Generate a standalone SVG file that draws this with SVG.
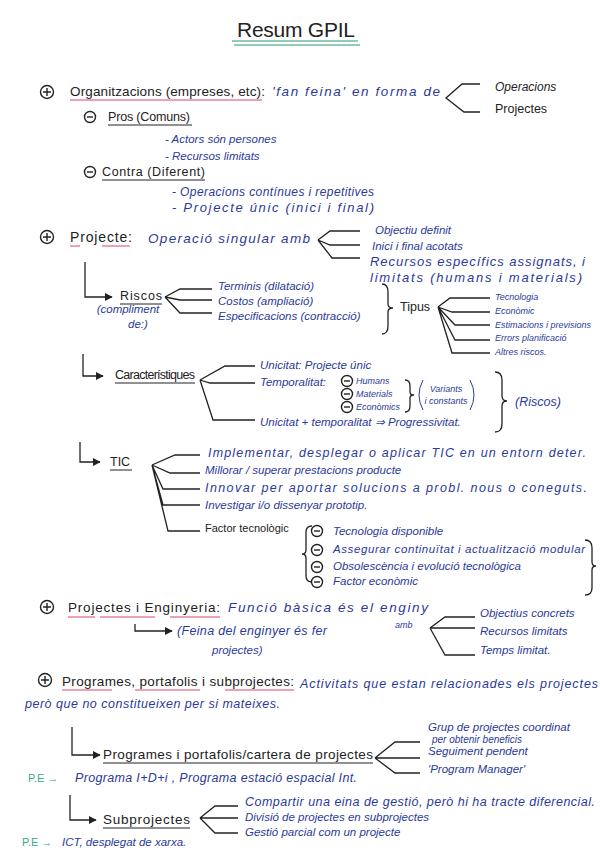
<svg xmlns="http://www.w3.org/2000/svg" width="600" height="848" viewBox="0 0 600 848">
<style>
.k{font-family:"Liberation Sans",Arial,sans-serif;font-size:12.5px;fill:#222}
.b{font-family:"Liberation Sans",Arial,sans-serif;font-size:11.5px;fill:#2b3a9a;font-style:italic}
.bs{font-family:"Liberation Sans",Arial,sans-serif;font-size:9px;fill:#2b3a9a;font-style:italic}
.g{font-family:"Liberation Sans",Arial,sans-serif;font-size:11px;fill:#3aa88a}
.ln{stroke:#222;stroke-width:1.3;fill:none}
.ul{stroke:#222;stroke-width:1;fill:none}
.ru{stroke:#d6476a;stroke-width:1;fill:none}
.cb{stroke:#222;stroke-width:1.4;fill:none}
</style>
<defs>
<marker id="ah" viewBox="0 0 10 10" refX="9" refY="5" markerWidth="6" markerHeight="6" orient="auto"><path d="M0,0L10,5L0,10z" fill="#222"/></marker>
<g id="cp"><circle r="6.5" class="cb"/><path d="M-4,0H4M0,-4V4" class="cb"/></g>
<g id="cm"><circle r="5.5" class="cb"/><path d="M-3,0H3" class="cb"/></g>
</defs>
<rect width="600" height="848" fill="#fff"/>

<g id="title">
<text x="296" y="37" class="k" style="font-size:21px" text-anchor="middle" textLength="118" lengthAdjust="spacing">Resum GPIL</text>
<path d="M232,41H358M234,45H360" stroke="#2a9a7a" stroke-width="1.2" fill="none"/>
</g>

<g id="connectors">
<path d="M480,84H462L446,98L464,112H480" class="ln"/>
<path d="M318,240L330,231H360M318,240L330,245H360M318,240L332,258H360" class="ln"/>
<path d="M85,262V297H112" class="ln" marker-end="url(#ah)"/>
<path d="M165,297L180,289H212M165,297L180,300H212M165,297L180,313H212" class="ln"/>
<path d="M438,307L450,298H490M438,307L452,312H490M438,307L455,325H490M438,307L455,340H490M438,307L452,353H490" class="ln"/>
<path d="M83,354V376H103" class="ln" marker-end="url(#ah)"/>
<path d="M200,380L225,366H255M200,380L210,383H255M200,380L213,420H255" class="ln"/>
<path d="M80,442V462H100" class="ln" marker-end="url(#ah)"/>
<path d="M152,465L175,455H200M152,465L170,473H200M152,465L163,489H200M152,465L163,505H200M152,465L168,531H200" class="ln"/>
<path d="M135,624V631H172" class="ln" marker-end="url(#ah)"/>
<path d="M430,628L445,617H475M430,628L445,628H475M430,628L445,655H475" class="ln"/>
<path d="M72,727V755H100" class="ln" marker-end="url(#ah)"/>
<path d="M375,758L395,742H420M375,758H420M375,758L395,773H420" class="ln"/>
<path d="M70,795V820H96" class="ln" marker-end="url(#ah)"/>
<path d="M200,818L215,806H238M200,818H238M200,818L215,833H238" class="ln"/>
</g>

<g id="organitzacions">
<use href="#cp" x="47" y="92"/>
<text x="70" y="96" class="k" style="font-size:13.5px" textLength="195" lengthAdjust="spacing">Organitzacions (empreses, etc):</text>
<path d="M70,100H262" class="ru"/>
<text x="272" y="96" class="b" style="font-size:13.5px" textLength="168" lengthAdjust="spacing">'fan feina' en forma de</text>
<text x="495" y="91" class="k" style="font-size:12px;font-style:italic">Operacions</text>
<text x="495" y="113" class="k">Projectes</text>
</g>

<g id="pros">
<use href="#cm" x="90" y="117"/>
<text x="108" y="121" class="k" textLength="82" lengthAdjust="spacing">Pros (Comuns)</text>
<path d="M108,125H192" class="ul"/>
<text x="165" y="143" class="b">- Actors són persones</text>
<text x="165" y="160" class="b">- Recursos limitats</text>
</g>

<g id="contra">
<use href="#cm" x="90" y="172"/>
<text x="102" y="176" class="k" textLength="103" lengthAdjust="spacing">Contra (Diferent)</text>
<path d="M102,180H205" class="ul"/>
<text x="172" y="196" class="b" style="font-size:12px" textLength="202" lengthAdjust="spacing">- Operacions contínues i repetitives</text>
<text x="172" y="212" class="b" style="font-size:13px" textLength="202" lengthAdjust="spacing">- Projecte únic (inici i final)</text>
</g>

<g id="projecte">
<use href="#cp" x="47" y="237"/>
<text x="70" y="242" class="k" style="font-size:14px" textLength="62" lengthAdjust="spacing">Projecte:</text>
<path d="M70,246H80M102,246H130" class="ru"/>
<text x="148" y="243" class="b" style="font-size:13.5px" textLength="162" lengthAdjust="spacing">Operació singular amb</text>
<text x="375" y="234" class="b">Objectiu definit</text>
<text x="372" y="250" class="b">Inici i final acotats</text>
<text x="370" y="266" class="b" style="font-size:13px" textLength="215" lengthAdjust="spacing">Recursos específics assignats, i</text>
<text x="370" y="282" class="b" style="font-size:13px" textLength="212" lengthAdjust="spacing">limitats (humans i materials)</text>
</g>

<g id="riscos">
<text x="120" y="300" class="k" textLength="42" lengthAdjust="spacing">Riscos</text>
<path d="M120,304H162" class="ul"/>
<text x="128" y="313" class="b" text-anchor="middle">(compliment</text>
<text x="138" y="328" class="b" text-anchor="middle">de:)</text>
<text x="218" y="290" class="b">Terminis (dilatació)</text>
<text x="218" y="305" class="b">Costos (ampliació)</text>
<text x="218" y="320" class="b">Especificacions (contracció)</text>
<path d="M382,284Q388,284 388,292V304Q388,308 393,308Q388,308 388,312V326Q388,334 382,334" class="ln"/>
<text x="400" y="311" class="k">Tipus</text>
<text x="495" y="300" class="bs">Tecnologia</text>
<text x="495" y="314" class="bs">Econòmic</text>
<text x="495" y="328" class="bs">Estimacions i previsions</text>
<text x="495" y="341" class="bs">Errors planificació</text>
<text x="495" y="355" class="bs">Altres riscos.</text>
</g>

<g id="caracteristiques">
<text x="115" y="379" class="k" textLength="80" lengthAdjust="spacing">Característiques</text>
<path d="M115,383H195" class="ul"/>
<text x="260" y="369" class="b">Unicitat: Projecte únic</text>
<text x="260" y="386" class="b">Temporalitat:</text>
<use href="#cm" x="347" y="381"/>
<use href="#cm" x="347" y="394"/>
<use href="#cm" x="347" y="407"/>
<text x="356" y="384" class="bs">Humans</text>
<text x="356" y="397" class="bs">Materials</text>
<text x="356" y="410" class="bs">Econòmics</text>
<path d="M405,380Q410,380 410,386V392Q410,395 414,395Q410,395 410,398V406Q410,412 405,412" class="ln"/>
<path d="M423,380Q415,395 423,410M470,380Q478,395 470,410" stroke="#2b3a9a" stroke-width="1" fill="none"/>
<text x="446" y="392" class="bs" text-anchor="middle">Variants</text>
<text x="446" y="404" class="bs" text-anchor="middle">i constants</text>
<text x="260" y="426" class="b">Unicitat + temporalitat ⇒ Progressivitat.</text>
<path d="M495,372Q502,372 502,380V396Q502,401 507,401Q502,401 502,406V424Q502,432 495,432" class="ln"/>
<text x="515" y="406" class="b" style="font-size:12.5px">(Riscos)</text>
</g>

<g id="tic">
<text x="110" y="466" class="k">TIC</text>
<path d="M110,470H132" class="ul"/>
<text x="208" y="457" class="b" style="font-size:12.5px" textLength="378" lengthAdjust="spacing">Implementar, desplegar o aplicar TIC en un entorn deter.</text>
<text x="205" y="474" class="b">Millorar / superar prestacions producte</text>
<text x="205" y="492" class="b" style="font-size:12.5px" textLength="382" lengthAdjust="spacing">Innovar per aportar solucions a probl. nous o coneguts.</text>
<text x="205" y="509" class="b">Investigar i/o dissenyar prototip.</text>
<text x="205" y="532" class="k" style="font-size:11px">Factor tecnològic</text>
<path d="M312,526Q306,526 306,532V550Q306,554 302,554Q306,554 306,558V576Q306,582 312,582" class="ln"/>
<use href="#cm" x="317" y="531"/>
<use href="#cm" x="317" y="550"/>
<use href="#cm" x="317" y="567"/>
<use href="#cm" x="317" y="582"/>
<text x="333" y="535" class="b">Tecnologia disponible</text>
<text x="333" y="553" class="b" textLength="252" lengthAdjust="spacing">Assegurar continuïtat i actualització modular</text>
<text x="333" y="570" class="b">Obsolescència i evolució tecnològica</text>
<text x="333" y="585" class="b">Factor econòmic</text>
<path d="M585,540Q592,540 592,548V562Q592,566 596,566Q592,566 592,570V588Q592,595 585,595" class="ln"/>
</g>

<g id="enginyeria">
<use href="#cp" x="47" y="607"/>
<text x="68" y="612" class="k" style="font-size:13.5px" textLength="152" lengthAdjust="spacing">Projectes i Enginyeria:</text>
<path d="M68,617H95M100,617H155M170,617H220" class="ru"/>
<text x="228" y="612" class="b" style="font-size:13.5px" textLength="200" lengthAdjust="spacing">Funció bàsica és el enginy</text>
<text x="395" y="628" class="bs">amb</text>
<text x="177" y="635" class="b" style="font-size:12.5px" textLength="150" lengthAdjust="spacing">(Feina del enginyer és fer</text>
<text x="212" y="654" class="b">projectes)</text>
<text x="480" y="617" class="b">Objectius concrets</text>
<text x="480" y="635" class="b">Recursos limitats</text>
<text x="480" y="654" class="b">Temps limitat.</text>
</g>

<g id="programes">
<use href="#cp" x="45" y="680"/>
<text x="62" y="686" class="k" style="font-size:13.5px" textLength="232" lengthAdjust="spacing">Programes, portafolis i subprojectes:</text>
<path d="M62,690H112M135,690H200M225,690H294" class="ru"/>
<text x="300" y="688" class="b" style="font-size:12.5px" textLength="298" lengthAdjust="spacing">Activitats que estan relacionades els projectes</text>
<text x="25" y="708" class="b" style="font-size:12.5px" textLength="255" lengthAdjust="spacing">però que no constitueixen per si mateixes.</text>
</g>

<g id="portafolis">
<text x="103" y="759" class="k" style="font-size:13.5px" textLength="270" lengthAdjust="spacing">Programes i portafolis/cartera de projectes</text>
<path d="M103,763H373" class="ul"/>
<text x="428" y="731" class="b">Grup de projectes coordinat</text>
<text x="432" y="743" class="bs" style="font-size:10px">per obtenir beneficis</text>
<text x="428" y="755" class="b">Seguiment pendent</text>
<text x="428" y="773" class="b">'Program Manager'</text>
</g>

<g id="pe1">
<text x="28" y="782" class="g">P.E →</text>
<text x="75" y="782" class="b" style="font-size:12.5px" textLength="282" lengthAdjust="spacing">Programa I+D+i , Programa estació espacial Int.</text>
</g>

<g id="subprojectes">
<text x="103" y="824" class="k" style="font-size:13.5px" textLength="87" lengthAdjust="spacing">Subprojectes</text>
<path d="M103,828H190" class="ul"/>
<text x="245" y="806" class="b" style="font-size:12.5px" textLength="350" lengthAdjust="spacing">Compartir una eina de gestió, però hi ha tracte diferencial.</text>
<text x="245" y="821" class="b">Divisió de projectes en subprojectes</text>
<text x="245" y="836" class="b">Gestió parcial com un projecte</text>
</g>

<g id="pe2">
<text x="22" y="846" class="g">P.E →</text>
<text x="62" y="846" class="b">ICT, desplegat de xarxa.</text>
</g>
</svg>
